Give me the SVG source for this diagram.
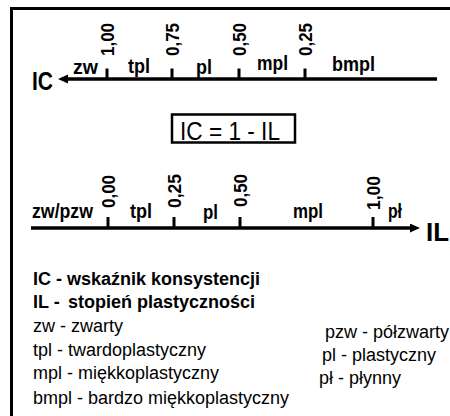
<svg xmlns="http://www.w3.org/2000/svg" width="450" height="416" viewBox="0 0 450 416">
  <style>
    .ln { stroke: #000; stroke-width: 3.5; fill: none; }
    .tk { stroke: #000; stroke-width: 3; }
    .lab { font-family: "Liberation Sans", Arial, sans-serif; font-weight: bold; font-size: 21px; fill: #000; }
    .num { font-family: "Liberation Sans", Arial, sans-serif; font-weight: bold; font-size: 19px; fill: #000; }
    .ax { font-family: "Liberation Sans", Arial, sans-serif; font-weight: bold; font-size: 25px; fill: #000; }
    .leg { font-family: "Liberation Sans", Arial, sans-serif; font-size: 18px; fill: #000; }
    .legb { font-family: "Liberation Sans", Arial, sans-serif; font-weight: bold; font-size: 18px; fill: #000; }
  </style>
  <defs>
    <marker id="arr" markerUnits="userSpaceOnUse" markerWidth="11" markerHeight="10" refX="6" refY="4.5" orient="auto">
      <path d="M0,0 L10,4.5 L0,9 Z" fill="#000"/>
    </marker>
  </defs>
  <rect width="450" height="416" fill="#fff"/>

  <g id="frame">
    <path d="M11.5,7 V416 M10,8.5 H450" stroke="#000" stroke-width="3" fill="none"/>
  </g>

  <g id="connectors">
    <line class="ln" x1="437" y1="79" x2="62" y2="79" marker-end="url(#arr)"/>
    <line class="ln" x1="31" y1="228" x2="416" y2="228" marker-end="url(#arr)"/>
  </g>

  <g id="axis-ic">
    <text class="ax" x="32" y="90" textLength="21" lengthAdjust="spacingAndGlyphs">IC</text>
    <line class="tk" x1="107" y1="68.5" x2="107" y2="79"/>
    <line class="tk" x1="172" y1="68.5" x2="172" y2="79"/>
    <line class="tk" x1="239" y1="68.5" x2="239" y2="79"/>
    <line class="tk" x1="305" y1="68.5" x2="305" y2="79"/>
    <text class="num" transform="translate(113.5,56) rotate(-90)" textLength="33" lengthAdjust="spacingAndGlyphs">1,00</text>
    <text class="num" transform="translate(178.5,56) rotate(-90)" textLength="33" lengthAdjust="spacingAndGlyphs">0,75</text>
    <text class="num" transform="translate(245.5,56) rotate(-90)" textLength="33" lengthAdjust="spacingAndGlyphs">0,50</text>
    <text class="num" transform="translate(311.5,56) rotate(-90)" textLength="33" lengthAdjust="spacingAndGlyphs">0,25</text>
    <text class="lab" x="73" y="74" textLength="25" lengthAdjust="spacingAndGlyphs">zw</text>
    <text class="lab" x="128" y="73" textLength="22" lengthAdjust="spacingAndGlyphs">tpl</text>
    <text class="lab" x="196" y="74" textLength="16" lengthAdjust="spacingAndGlyphs">pl</text>
    <text class="lab" x="257" y="70" textLength="31" lengthAdjust="spacingAndGlyphs">mpl</text>
    <text class="lab" x="332" y="71" textLength="43" lengthAdjust="spacingAndGlyphs">bmpl</text>
  </g>

  <g id="formula">
    <rect x="172" y="114.5" width="123" height="28" fill="#fff" stroke="#000" stroke-width="2.5"/>
    <text x="180" y="140" font-family="'Liberation Sans', Arial, sans-serif" font-size="25" fill="#000" textLength="100" lengthAdjust="spacingAndGlyphs">IC = 1 - IL</text>
  </g>

  <g id="axis-il">
    <line class="tk" x1="108" y1="217" x2="108" y2="228"/>
    <line class="tk" x1="174" y1="217" x2="174" y2="228"/>
    <line class="tk" x1="240" y1="217" x2="240" y2="228"/>
    <line class="tk" x1="373" y1="217" x2="373" y2="228"/>
    <text class="num" transform="translate(114.5,208) rotate(-90)" textLength="33" lengthAdjust="spacingAndGlyphs">0,00</text>
    <text class="num" transform="translate(180.5,208) rotate(-90)" textLength="34" lengthAdjust="spacingAndGlyphs">0,25</text>
    <text class="num" transform="translate(246.5,207) rotate(-90)" textLength="33" lengthAdjust="spacingAndGlyphs">0,50</text>
    <text class="num" transform="translate(379.5,210) rotate(-90)" textLength="34" lengthAdjust="spacingAndGlyphs">1,00</text>
    <text class="lab" x="32" y="218" textLength="61" lengthAdjust="spacingAndGlyphs">zw/pzw</text>
    <text class="lab" x="130" y="218" textLength="22" lengthAdjust="spacingAndGlyphs">tpl</text>
    <text class="lab" x="203" y="219" textLength="15" lengthAdjust="spacingAndGlyphs">pl</text>
    <text class="lab" x="293" y="218" textLength="30" lengthAdjust="spacingAndGlyphs">mpl</text>
    <text class="lab" x="388" y="218" font-size="17" textLength="14" lengthAdjust="spacingAndGlyphs">pł</text>
    <text class="ax" x="426" y="241" textLength="23" lengthAdjust="spacingAndGlyphs">IL</text>
  </g>

  <g id="legend">
    <text class="legb" x="33" y="285">IC - wskaźnik konsystencji</text>
    <text class="legb" x="33" y="308">IL - <tspan x="68">stopień plastyczności</tspan></text>
    <text class="leg" x="33" y="332">zw - zwarty</text>
    <text class="leg" x="33" y="356">tpl - twardoplastyczny</text>
    <text class="leg" x="33" y="379">mpl - miękkoplastyczny</text>
    <text class="leg" x="33" y="404">bmpl - bardzo miękkoplastyczny</text>
    <text class="leg" x="325" y="338">pzw - półzwarty</text>
    <text class="leg" x="322" y="361">pl - plastyczny</text>
    <text class="leg" x="319" y="384">pł - płynny</text>
  </g>
</svg>
